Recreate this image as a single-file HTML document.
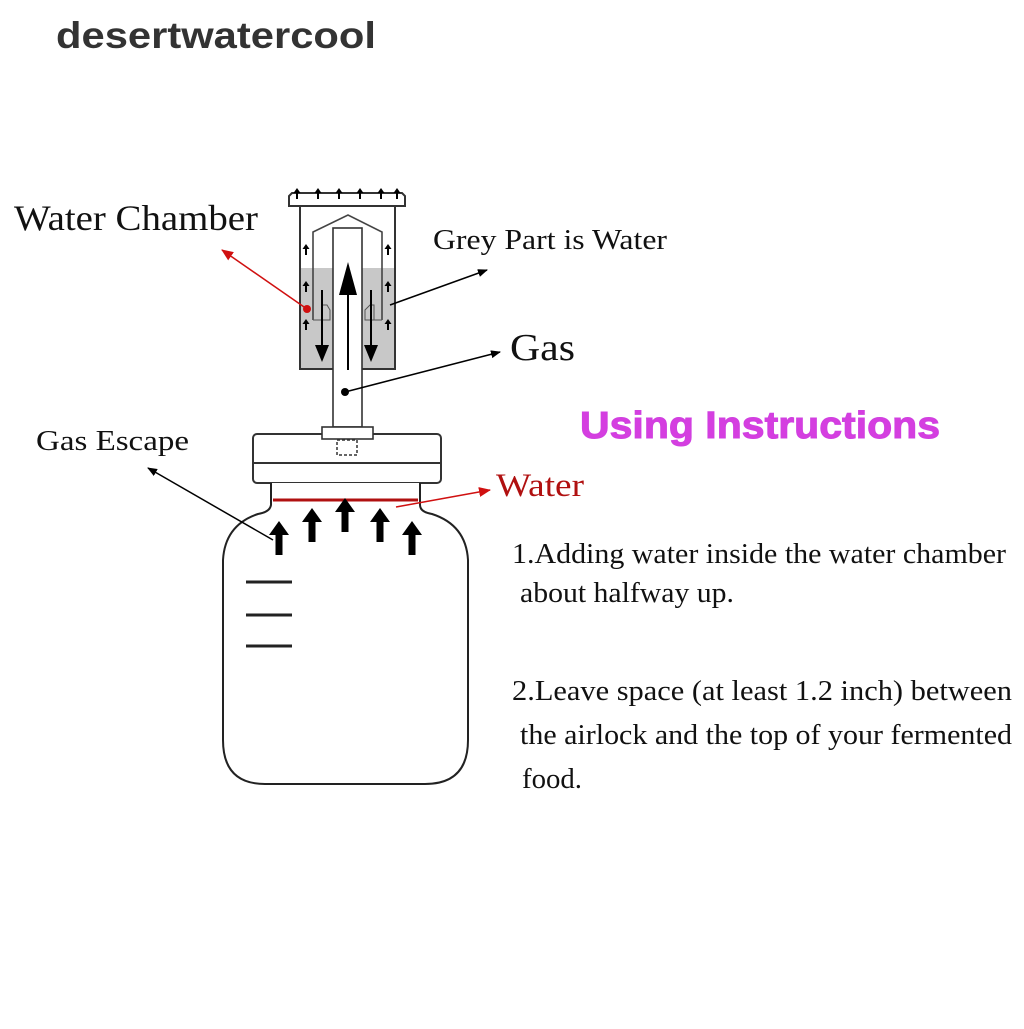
<!DOCTYPE html>
<html><head><style>
body{margin:0;background:#fff;width:1024px;height:1024px;overflow:hidden}
</style></head><body>
<svg width="1024" height="1024" viewBox="0 0 1024 1024" xmlns="http://www.w3.org/2000/svg">
<defs>
<marker id="ab" markerWidth="10" markerHeight="8" refX="9" refY="4" orient="auto" markerUnits="userSpaceOnUse"><path d="M0,0 L10,4 L0,8 Z" fill="#000"/></marker>
<marker id="ar" markerWidth="12" markerHeight="10" refX="11" refY="5" orient="auto" markerUnits="userSpaceOnUse"><path d="M0,0 L12,5 L0,10 Z" fill="#d01010"/></marker>
<g id="big"><rect x="-3.5" y="10" width="7" height="22" fill="#000"/><path d="M-10,12 L0,-2 L10,12 Z" fill="#000"/></g>
<g id="sm"><rect x="-1" y="3" width="2" height="7" fill="#000"/><path d="M-3.5,4 L0,-1 L3.5,4 Z" fill="#000"/></g>
</defs>
<text x="56" y="48" font-family="Liberation Sans,sans-serif" font-size="37" font-weight="bold" fill="#333" textLength="320" lengthAdjust="spacingAndGlyphs">desertwatercool</text>

<rect x="300" y="268" width="95" height="101" fill="#c8c8c8"/>
<rect x="300" y="206" width="95" height="163" fill="none" stroke="#333" stroke-width="2"/>
<path d="M289,206 L289,196 L292,193 L402,193 L405,196 L405,206 Z" fill="#fff" stroke="#333" stroke-width="2"/>
<g>
<use href="#sm" x="297" y="189"/><use href="#sm" x="318" y="189"/><use href="#sm" x="339" y="189"/><use href="#sm" x="360" y="189"/><use href="#sm" x="381" y="189"/><use href="#sm" x="397" y="189"/>
<use href="#sm" x="306" y="245"/><use href="#sm" x="306" y="282"/><use href="#sm" x="306" y="320"/>
<use href="#sm" x="388" y="245"/><use href="#sm" x="388" y="282"/><use href="#sm" x="388" y="320"/>
</g>
<path d="M313,320 L313,232 L348,215 L382,232 L382,320" fill="none" stroke="#444" stroke-width="1.6"/>
<path d="M313,320 L330,320 L330,310 L327,305 L322,305 L322,320 M382,320 L365,320 L365,310 L370,305 L374,305 L374,320" fill="none" stroke="#555" stroke-width="1"/>
<rect x="333" y="228" width="29" height="199" fill="#fff" stroke="#333" stroke-width="1.6"/>
<line x1="348" y1="370" x2="348" y2="290" stroke="#000" stroke-width="2"/><path d="M339,295 L348,262 L357,295 Z" fill="#000"/>
<line x1="322" y1="290" x2="322" y2="350" stroke="#000" stroke-width="2"/><path d="M315,345 L322,362 L329,345 Z" fill="#000"/>
<line x1="371" y1="290" x2="371" y2="350" stroke="#000" stroke-width="2"/><path d="M364,345 L371,362 L378,345 Z" fill="#000"/>
<rect x="253" y="434" width="188" height="49" rx="4" fill="#fff" stroke="#333" stroke-width="2"/>
<line x1="253" y1="463" x2="441" y2="463" stroke="#333" stroke-width="2"/>
<rect x="322" y="427" width="51" height="12" fill="#fff" stroke="#333" stroke-width="1.6"/>
<rect x="337" y="440" width="20" height="15" fill="none" stroke="#333" stroke-width="1.5" stroke-dasharray="3,2"/>
<path d="M271,483 L271,505 Q270,512 258,514 Q225,525 223,560 L223,740 Q223,784 265,784 L425,784 Q468,784 468,740 L468,560 Q466,525 432,514 Q420,512 420,505 L420,483" fill="#fff" stroke="#222" stroke-width="2"/>
<line x1="273" y1="500" x2="418" y2="500" stroke="#b01010" stroke-width="3"/>
<line x1="246" y1="582" x2="292" y2="582" stroke="#222" stroke-width="3"/>
<line x1="246" y1="615" x2="292" y2="615" stroke="#222" stroke-width="3"/>
<line x1="246" y1="646" x2="292" y2="646" stroke="#222" stroke-width="3"/>
<use href="#big" x="279" y="523"/><use href="#big" x="312" y="510"/><use href="#big" x="345" y="500"/><use href="#big" x="380" y="510"/><use href="#big" x="412" y="523"/>
<line x1="307" y1="309" x2="222" y2="250" stroke="#d01010" stroke-width="1.5" marker-end="url(#ar)"/>
<circle cx="307" cy="309" r="4" fill="#d01010"/>
<line x1="390" y1="305" x2="487" y2="270" stroke="#000" stroke-width="1.5" marker-end="url(#ab)"/>
<line x1="345" y1="392" x2="500" y2="352" stroke="#000" stroke-width="1.5" marker-end="url(#ab)"/>
<circle cx="345" cy="392" r="4" fill="#000"/>
<line x1="273" y1="540" x2="148" y2="468" stroke="#000" stroke-width="1.5" marker-end="url(#ab)"/>
<line x1="396" y1="507" x2="490" y2="490" stroke="#d01010" stroke-width="1.5" marker-end="url(#ar)"/>
<g font-family="Liberation Serif,serif" fill="#111">
<text x="14" y="230" font-size="36" textLength="244" lengthAdjust="spacingAndGlyphs">Water Chamber</text>
<text x="433" y="249" font-size="29" textLength="234" lengthAdjust="spacingAndGlyphs">Grey Part is Water</text>
<text x="510" y="360" font-size="38" textLength="65" lengthAdjust="spacingAndGlyphs">Gas</text>
<text x="36" y="450" font-size="29" textLength="153" lengthAdjust="spacingAndGlyphs">Gas Escape</text>
<text x="496" y="496" font-size="33" fill="#b01010" textLength="88" lengthAdjust="spacingAndGlyphs">Water</text>
<text x="512" y="563" font-size="28" textLength="494" lengthAdjust="spacingAndGlyphs">1.Adding water inside the water chamber</text>
<text x="520" y="602" font-size="28" textLength="214" lengthAdjust="spacingAndGlyphs">about halfway up.</text>
<text x="512" y="700" font-size="28" textLength="500" lengthAdjust="spacingAndGlyphs">2.Leave space (at least 1.2 inch) between</text>
<text x="520" y="744" font-size="28" textLength="492" lengthAdjust="spacingAndGlyphs">the airlock and the top of your fermented</text>
<text x="522" y="788" font-size="28" textLength="60" lengthAdjust="spacingAndGlyphs">food.</text>
</g>
<text x="580" y="438" font-family="Liberation Sans,sans-serif" font-size="38" font-weight="bold" fill="#d53ee0" stroke="#d040e0" stroke-width="1" textLength="360" lengthAdjust="spacingAndGlyphs">Using Instructions</text>
</svg>
</body></html>
